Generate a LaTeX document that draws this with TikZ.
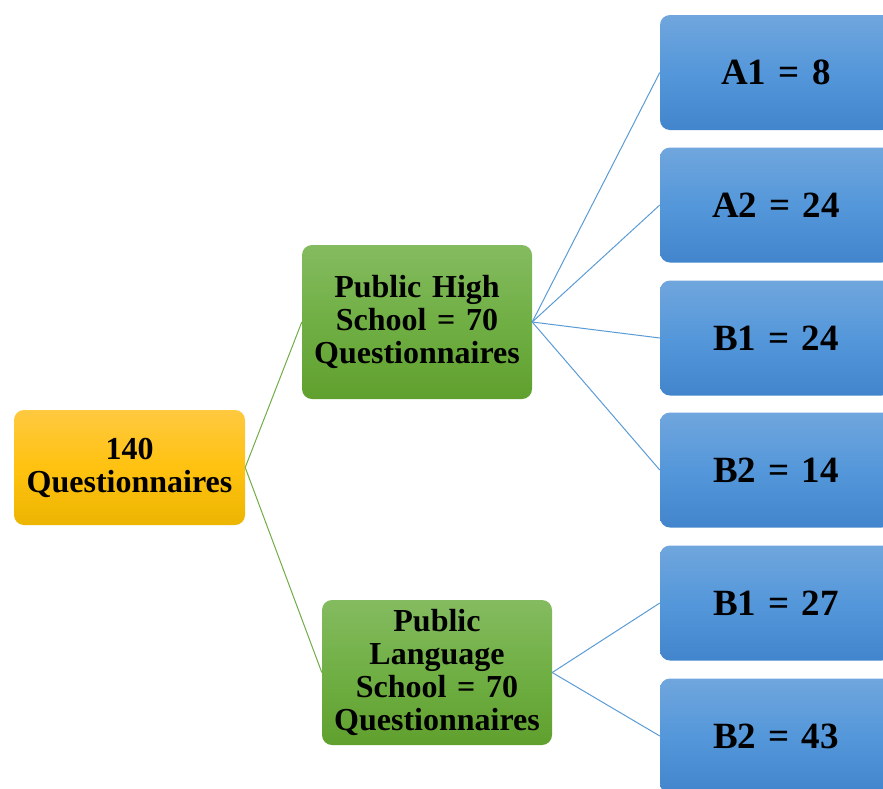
\documentclass[tikz,border=0pt]{standalone}
\usepackage{fontspec}
\setmainfont{Liberation Serif}
\definecolor{bluetop}{RGB}{112,166,221}
\definecolor{bluemid}{RGB}{84,151,218}
\definecolor{bluebot}{RGB}{66,133,204}
\definecolor{greentop}{RGB}{132,187,96}
\definecolor{greenmid}{RGB}{112,175,68}
\definecolor{greenbot}{RGB}{96,160,46}
\definecolor{orangetop}{RGB}{255,201,64}
\definecolor{orangemid}{RGB}{255,194,16}
\definecolor{orangebot}{RGB}{236,181,0}
\definecolor{glink}{RGB}{112,173,71}
\definecolor{blink}{RGB}{91,155,213}
\tikzset{
  box/.style={rounded corners=10pt, inner sep=2pt, align=center,
    font=\bfseries\fontsize{32}{33}\selectfont},
  orangebox/.style={box, top color=orangetop, bottom color=orangebot, middle color=orangemid,
    minimum width=231pt, minimum height=115pt, text width=225pt},
  greenbox/.style={box, top color=greentop, bottom color=greenbot, middle color=greenmid,
    minimum width=230pt, text width=224pt},
  bluebox/.style={box, top color=bluetop, bottom color=bluebot, middle color=bluemid,
    minimum width=232pt, minimum height=115pt, text width=226pt,
    font=\bfseries\fontsize{37}{38}\selectfont},
  glinkstyle/.style={draw=glink, line width=1pt},
  blinkstyle/.style={draw=blink, line width=1pt}
}
\begin{document}
\begin{tikzpicture}[x=1pt,y=1pt]
\useasboundingbox (0,0) rectangle (883,-788);
\clip (0,0) rectangle (883,-788);
\node[orangebox] (root) at (129.5,-467.5) {140\\Questionnaires};
\node[greenbox, minimum height=154pt] (g1) at (417,-322) {Public High\\School = 70\\Questionnaires};
\node[greenbox, minimum height=145pt] (g2) at (437,-672.5) {Public\\Language\\School = 70\\Questionnaires};
\node[bluebox] (a1) at (776,-72.5) {A1 = 8};
\node[bluebox] (a2) at (776,-205) {A2 = 24};
\node[bluebox] (b1) at (776,-338) {B1 = 24};
\node[bluebox] (b2) at (776,-470) {B2 = 14};
\node[bluebox] (c1) at (776,-603) {B1 = 27};
\node[bluebox] (c2) at (776,-736) {B2 = 43};
\draw[glinkstyle] (root.east) -- (g1.west);
\draw[glinkstyle] (root.east) -- (g2.west);
\draw[blinkstyle] (g1.east) -- (a1.west);
\draw[blinkstyle] (g1.east) -- (a2.west);
\draw[blinkstyle] (g1.east) -- (b1.west);
\draw[blinkstyle] (g1.east) -- (b2.west);
\draw[blinkstyle] (g2.east) -- (c1.west);
\draw[blinkstyle] (g2.east) -- (c2.west);
\end{tikzpicture}
\end{document}
